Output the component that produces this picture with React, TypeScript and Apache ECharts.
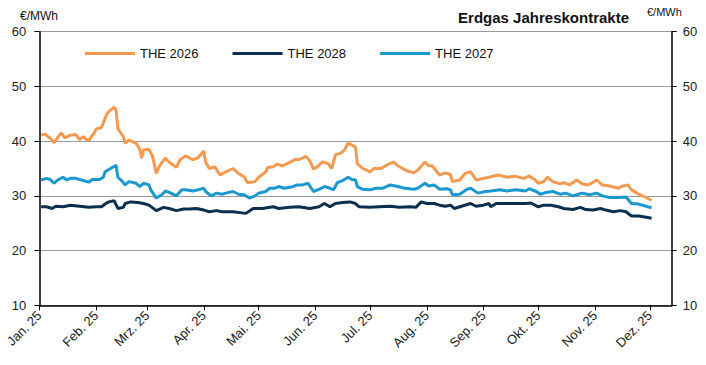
import React, { useEffect, useRef } from "react";
import * as echarts from "echarts";

const monthLabels = ["Jan. 25","Feb. 25","Mrz. 25","Apr. 25","Mai. 25","Jun. 25","Jul. 25","Aug. 25","Sep. 25","Okt. 25","Nov. 25","Dez. 25"];

const dates2026 = ["2025-01-02","2025-01-04","2025-01-07","2025-01-09","2025-01-10","2025-01-13","2025-01-15","2025-01-18","2025-01-21","2025-01-23","2025-01-25","2025-01-28","2025-01-30","2025-01-31","2025-02-01","2025-02-04","2025-02-05","2025-02-07","2025-02-09","2025-02-11","2025-02-12","2025-02-13","2025-02-16","2025-02-17","2025-02-19","2025-02-23","2025-02-25","2025-02-26","2025-02-27","2025-03-02","2025-03-04","2025-03-06","2025-03-08","2025-03-11","2025-03-13","2025-03-17","2025-03-19","2025-03-22","2025-03-26","2025-03-29","2025-04-01","2025-04-02","2025-04-04","2025-04-07","2025-04-10","2025-04-13","2025-04-17","2025-04-20","2025-04-23","2025-04-25","2025-04-29","2025-05-01","2025-05-05","2025-05-06","2025-05-09","2025-05-11","2025-05-14","2025-05-18","2025-05-21","2025-05-23","2025-05-27","2025-05-29","2025-05-31","2025-06-02","2025-06-05","2025-06-08","2025-06-10","2025-06-12","2025-06-15","2025-06-17","2025-06-19","2025-06-21","2025-06-23","2025-06-24","2025-06-27","2025-07-01","2025-07-03","2025-07-07","2025-07-10","2025-07-14","2025-07-16","2025-07-21","2025-07-25","2025-07-27","2025-07-31","2025-08-02","2025-08-04","2025-08-08","2025-08-11","2025-08-14","2025-08-15","2025-08-19","2025-08-22","2025-08-25","2025-08-28","2025-09-01","2025-09-04","2025-09-09","2025-09-14","2025-09-18","2025-09-23","2025-09-26","2025-09-29","2025-10-01","2025-10-04","2025-10-06","2025-10-09","2025-10-13","2025-10-15","2025-10-18","2025-10-22","2025-10-25","2025-10-28","2025-10-30","2025-11-02","2025-11-05","2025-11-09","2025-11-14","2025-11-16","2025-11-19","2025-11-21","2025-11-25","2025-11-29","2025-12-02"];
const values2026 = [41.1,41.3,40.5,39.7,40.2,41.5,40.6,41.1,41.2,40.3,40.8,40.0,41.1,41.4,42.2,42.5,43.3,45.0,45.7,46.2,45.7,42.3,40.8,39.6,40.2,39.6,38.5,36.9,38.4,38.5,37.2,34.1,35.6,36.9,36.2,35.2,36.6,37.3,36.6,37.0,38.2,36.2,35.0,35.3,33.8,34.4,35.0,34.1,33.5,32.4,32.6,33.4,34.4,35.2,35.3,35.8,35.5,36.1,36.7,36.6,37.2,36.4,34.9,35.3,36.2,35.9,35.0,37.5,37.8,38.4,39.6,39.3,38.9,35.9,35.0,34.4,35.0,35.0,35.6,36.2,35.5,34.6,34.2,34.7,36.2,35.5,35.5,33.8,34.2,33.9,32.6,32.9,34.1,34.4,32.9,33.2,33.4,33.8,33.4,33.6,33.2,33.6,33.0,32.3,32.6,33.4,32.6,32.2,32.4,32.0,32.9,32.2,32.0,32.3,32.9,32.0,31.8,31.4,31.8,32.0,31.1,30.3,29.7,29.2];

const dates2027 = ["2025-01-02","2025-01-05","2025-01-07","2025-01-09","2025-01-11","2025-01-14","2025-01-16","2025-01-18","2025-01-21","2025-01-25","2025-01-28","2025-01-30","2025-02-03","2025-02-05","2025-02-06","2025-02-09","2025-02-12","2025-02-13","2025-02-15","2025-02-17","2025-02-19","2025-02-23","2025-02-25","2025-02-27","2025-03-02","2025-03-03","2025-03-06","2025-03-09","2025-03-11","2025-03-14","2025-03-17","2025-03-20","2025-03-22","2025-03-26","2025-03-29","2025-04-01","2025-04-02","2025-04-05","2025-04-08","2025-04-11","2025-04-13","2025-04-17","2025-04-20","2025-04-23","2025-04-26","2025-04-29","2025-05-01","2025-05-05","2025-05-07","2025-05-10","2025-05-12","2025-05-15","2025-05-19","2025-05-22","2025-05-25","2025-05-28","2025-05-31","2025-06-03","2025-06-06","2025-06-09","2025-06-11","2025-06-13","2025-06-16","2025-06-19","2025-06-21","2025-06-23","2025-06-24","2025-06-27","2025-07-01","2025-07-04","2025-07-08","2025-07-12","2025-07-15","2025-07-20","2025-07-25","2025-07-27","2025-07-31","2025-08-02","2025-08-05","2025-08-08","2025-08-12","2025-08-14","2025-08-15","2025-08-19","2025-08-23","2025-08-25","2025-08-29","2025-09-02","2025-09-05","2025-09-10","2025-09-14","2025-09-19","2025-09-24","2025-09-26","2025-09-30","2025-10-02","2025-10-05","2025-10-09","2025-10-13","2025-10-16","2025-10-20","2025-10-23","2025-10-25","2025-10-29","2025-11-02","2025-11-05","2025-11-09","2025-11-14","2025-11-18","2025-11-21","2025-11-25","2025-11-29","2025-12-02"];
const values2027 = [32.9,33.2,33.0,32.3,32.9,33.4,32.9,33.2,33.2,32.8,32.5,33.0,33.0,33.4,34.4,35.0,35.6,33.4,32.8,32.0,32.6,32.3,31.7,32.3,32.0,31.1,29.6,30.2,30.9,30.5,30.0,31.1,31.1,30.9,31.1,31.4,30.8,30.0,30.5,30.3,30.5,30.8,30.3,30.2,29.6,30.0,30.5,30.8,31.4,31.4,31.7,31.4,31.6,32.0,32.0,32.3,30.8,31.2,31.7,31.4,31.1,32.4,32.8,33.4,33.0,32.9,31.7,31.2,31.1,31.4,31.4,32.0,31.8,31.4,31.2,31.4,32.3,31.8,32.0,31.2,31.3,31.1,30.2,30.3,31.2,31.4,30.5,30.8,30.9,31.1,30.9,31.1,30.9,31.3,30.8,30.3,30.6,30.8,30.3,30.5,30.0,30.3,30.5,30.2,30.5,30.0,29.7,29.7,29.8,28.6,28.5,28.1,27.8];

const dates2028 = ["2025-01-02","2025-01-05","2025-01-08","2025-01-10","2025-01-14","2025-01-18","2025-01-23","2025-01-28","2025-02-01","2025-02-04","2025-02-06","2025-02-08","2025-02-11","2025-02-13","2025-02-16","2025-02-17","2025-02-20","2025-02-24","2025-02-27","2025-03-02","2025-03-06","2025-03-10","2025-03-13","2025-03-17","2025-03-21","2025-03-24","2025-03-28","2025-04-01","2025-04-04","2025-04-08","2025-04-11","2025-04-17","2025-04-24","2025-04-28","2025-05-03","2025-05-09","2025-05-12","2025-05-18","2025-05-23","2025-05-29","2025-06-03","2025-06-06","2025-06-09","2025-06-12","2025-06-16","2025-06-20","2025-06-23","2025-06-25","2025-07-01","2025-07-06","2025-07-12","2025-07-17","2025-07-23","2025-07-26","2025-07-29","2025-08-01","2025-08-05","2025-08-08","2025-08-11","2025-08-14","2025-08-16","2025-08-20","2025-08-25","2025-08-28","2025-09-01","2025-09-04","2025-09-05","2025-09-08","2025-09-14","2025-09-19","2025-09-24","2025-09-27","2025-10-01","2025-10-04","2025-10-08","2025-10-12","2025-10-15","2025-10-20","2025-10-24","2025-10-27","2025-10-31","2025-11-04","2025-11-07","2025-11-11","2025-11-15","2025-11-18","2025-11-21","2025-11-25","2025-11-29","2025-12-02"];
const values2028 = [28.0,28.0,27.7,28.1,28.0,28.3,28.1,27.9,28.0,28.0,28.5,28.9,29.1,27.7,27.9,28.6,28.9,28.8,28.6,28.3,27.3,27.9,27.7,27.3,27.6,27.6,27.7,27.4,27.1,27.3,27.1,27.1,26.8,27.7,27.7,28.0,27.7,27.9,28.0,27.7,28.0,28.6,28.0,28.6,28.8,28.9,28.6,28.0,27.9,28.0,28.1,27.9,28.0,27.9,28.9,28.6,28.6,28.3,28.1,28.3,27.7,28.1,28.6,28.1,28.3,28.6,28.0,28.6,28.6,28.6,28.6,28.7,28.0,28.3,28.3,28.0,27.7,27.5,27.9,27.5,27.4,27.7,27.4,27.1,27.3,27.1,26.3,26.3,26.1,25.9];

const FONT = "'Liberation Sans', Arial, Helvetica, sans-serif";
const C2026 = "#F39A50";
const C2028 = "#0C2F4F";
const C2027 = "#1C98D0";

const toPairs = (d: string[], v: number[]) => d.map((x, i) => [x, v[i]]);

export default function App() {
  const ref = useRef<HTMLDivElement>(null);
  useEffect(() => {
    document.body.style.margin = "0";
    const chart = echarts.init(ref.current!, null, { renderer: "svg" });
    const DAY = 86400000;
    const yAxisBase = {
      type: "value",
      min: 10,
      max: 60,
      interval: 10,
      axisLine: { show: true, lineStyle: { color: "#000", width: 1.5 } },
      axisTick: { show: true, inside: false, length: 5, lineStyle: { color: "#000", width: 1 } },
    };
    const labelStyle = { color: "#222", fontSize: 13, fontFamily: FONT };
    chart.setOption({
      animation: false,
      backgroundColor: "#fff",
      grid: { left: 39.3, right: 34.3, top: 31.7, bottom: 59.7, containLabel: false },
      title: {
        text: "Erdgas Jahreskontrakte",
        right: 72,
        top: 5,
        textStyle: { fontFamily: FONT, fontSize: 15, fontWeight: "bold", color: "#111" },
      },
      legend: {
        left: 80,
        top: 42,
        itemWidth: 50,
        itemHeight: 3,
        itemGap: 34,
        icon: "rect",
        textStyle: { fontFamily: FONT, fontSize: 13, color: "#111" },
        data: ["THE 2026", "THE 2028", "THE 2027"],
      },
      graphic: [
        { type: "text", left: 20, top: 10, style: { text: "€/MWh", fontFamily: FONT, fontSize: 12, fill: "#111" } },
        { type: "text", left: 647, top: 6, style: { text: "€/MWh", fontFamily: FONT, fontSize: 11, fill: "#111" } },
      ],
      xAxis: {
        type: "time",
        min: "2025-01-01",
        max: "2025-12-13",
        minInterval: 28 * DAY,
        maxInterval: 31 * DAY,
        splitNumber: 12,
        axisLine: { show: true, lineStyle: { color: "#000", width: 1.5 } },
        axisTick: { show: true, length: 5, lineStyle: { color: "#000" } },
        splitLine: { show: false },
        axisLabel: {
          ...labelStyle,
          rotate: 45,
          margin: 8,
          hideOverlap: false,
          formatter: (val: number) => {
            const d = new Date(val);
            if (d.getDate() !== 1) return "";
            return monthLabels[d.getMonth()];
          },
        },
      },
      yAxis: [
        {
          ...yAxisBase,
          position: "left",
          splitLine: { show: true, lineStyle: { color: "#9a9a9a", width: 1 } },
          axisLabel: { ...labelStyle, margin: 13 },
        },
        {
          ...yAxisBase,
          position: "right",
          splitLine: { show: false },
          axisLabel: { ...labelStyle, margin: 11 },
        },
      ],
      series: [
        {
          name: "THE 2026",
          type: "line",
          data: toPairs(dates2026, values2026),
          symbol: "none",
          lineStyle: { color: C2026, width: 3 },
          itemStyle: { color: C2026 },
        },
        {
          name: "THE 2028",
          type: "line",
          data: toPairs(dates2028, values2028),
          symbol: "none",
          lineStyle: { color: C2028, width: 3 },
          itemStyle: { color: C2028 },
        },
        {
          name: "THE 2027",
          type: "line",
          data: toPairs(dates2027, values2027),
          symbol: "none",
          lineStyle: { color: C2027, width: 3 },
          itemStyle: { color: C2027 },
        },
      ],
    });
    return () => chart.dispose();
  }, []);
  return <div ref={ref} style={{ width: 706, height: 365 }} />;
}
